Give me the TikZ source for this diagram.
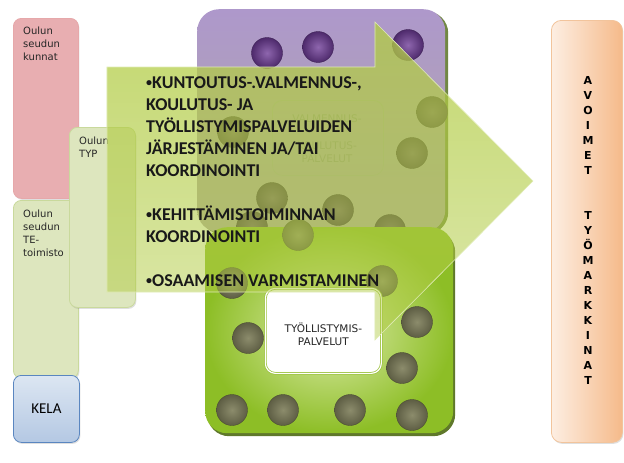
\documentclass[tikz,border=0pt]{standalone}
\usepackage{fontspec}
\setmainfont{DejaVu Sans}
\newfontfamily\calibrifont{Carlito}
\usepackage{tikz}
\usetikzlibrary{positioning, shadows, fadings}

\definecolor{kuntadark}{HTML}{E8AEB1}
\definecolor{kuntalight}{HTML}{FAEDEE}
\definecolor{kuntaline}{HTML}{E6A8AA}
\definecolor{tedark}{HTML}{DDE6BE}
\definecolor{telight}{HTML}{F7F9EE}
\definecolor{teline}{HTML}{C9D99C}
\definecolor{kelatop}{HTML}{DCE6F2}
\definecolor{kelabottom}{HTML}{B4C8E3}
\definecolor{kelaline}{HTML}{5A86C0}
\definecolor{valmtop}{HTML}{AE98CB}
\definecolor{valmbottom}{HTML}{B0A8A8}
\definecolor{tyolinner}{HTML}{DCEBAA}
\definecolor{tyolouter}{HTML}{8DBE26}
\definecolor{tyolshadow}{HTML}{4E6914}
\definecolor{tyolline}{HTML}{9CC23E}
\definecolor{dotlight}{HTML}{8C8C6C}
\definecolor{dotdark}{HTML}{5E5E44}
\definecolor{purplelight}{HTML}{8E66AE}
\definecolor{purpledark}{HTML}{4E2A6C}
\definecolor{duskylight}{HTML}{6E5A70}
\definecolor{duskydark}{HTML}{45354A}
\definecolor{arrowgreen}{HTML}{B2CC45}
\definecolor{avoinleft}{HTML}{FDEEE2}
\definecolor{avoinright}{HTML}{F5BA8A}
\definecolor{avoinline}{HTML}{F2C49C}

\tikzfading[name=arrowfade, top color=transparent!22, bottom color=transparent!55]

\newcommand{\smallbullet}{{\fontsize{12}{12}\selectfont\raisebox{1.5pt}{•}}}

\tikzset{
    sidebox/.style={rectangle, rounded corners=8pt, anchor=north west, inner sep=0pt, line width=0.8pt, drop shadow={shadow xshift=1pt, shadow yshift=-1.5pt, opacity=0.25}},
    boxtext/.style={align=left, font=\fontsize{10}{13}\selectfont, inner sep=0pt, anchor=north west, text=black!85},
    bigbox/.style={rectangle, rounded corners=22pt, anchor=north west, inner sep=0pt},
    ballgrey/.style={circle, minimum size=31pt, inner sep=0pt, shading=radial, inner color=dotlight, outer color=dotdark, draw=dotdark!80!black, line width=0.4pt},
    ballpurple/.style={ballgrey, inner color=purplelight, outer color=purpledark, draw=purpledark!80!black},
    balldusky/.style={ballgrey, inner color=duskylight, outer color=duskydark, draw=duskydark!80!black},
    arrowtext/.style={align=left, font=\calibrifont\bfseries\fontsize{18}{22}\selectfont, inner sep=0pt, text=black!90}
}

\begin{document}
\begin{tikzpicture}[x=1pt, y=-1pt]
    \useasboundingbox (0,0) rectangle (624,463);

    % left column
    \node (kunnat) [sidebox, minimum width=65, minimum height=180, draw=kuntaline, left color=kuntadark, middle color=kuntalight, right color=kuntadark] at (13,18) {};
    \node (kunnattxt) [boxtext, below right=9pt and 10pt of kunnat.north west] {Oulun\\seudun\\kunnat};
    \node (te) [sidebox, minimum width=65, minimum height=178, draw=teline, left color=tedark, middle color=telight, right color=tedark] at (13,200) {};
    \node (tetxt) [boxtext, below right=10pt and 10pt of te.north west] {Oulun\\seudun\\TE-\\toimisto};
    \node (kela) [sidebox, minimum width=66, minimum height=67, draw=kelaline, top color=kelatop, bottom color=kelabottom, font=\calibrifont\fontsize{15}{18}\selectfont] at (13,375) {KELA};
    \node (typ) [sidebox, minimum width=66, minimum height=180, draw=teline, left color=tedark, middle color=telight, right color=tedark] at (69,127) {};
    \node (typtxt) [boxtext, below right=10pt and 10pt of typ.north west] {Oulun\\TYP};

    % valmennus box
    \node (valm) [bigbox, minimum width=248, minimum height=223, top color=valmtop, bottom color=valmbottom, drop shadow={shadow xshift=3pt, shadow yshift=-2pt, fill=tyolshadow, opacity=0.8}] at (197,9) {};
    \node (valmin) [rectangle, rounded corners=10pt, anchor=north west, minimum width=111, minimum height=75, draw=black!35, line width=0.8pt] at (272,100) {};
    \node (valmintxt) [align=center, font=\fontsize{10.5}{13}\selectfont, text=black!45] at (327,139) {VALMENNUS-\\[14pt]KOULUTUS-\\PALVELUT};
    \foreach \cx/\cy [count=\i] in {267/53, 318/47, 408/45}
        \node (pdot\i) [ballpurple] at (\cx,\cy) {};
    \foreach \cx/\cy [count=\i] in {432/112, 412/153, 233/132, 272/198, 338/210, 252/227, 390/230}
        \node (ddot\i) [balldusky] at (\cx,\cy) {};

    % tyollistymis box
    \node (tyoll) [bigbox, minimum width=248, minimum height=206, shading=radial, inner color=tyolinner, outer color=tyolouter, drop shadow={shadow xshift=2pt, shadow yshift=-3pt, fill=tyolshadow, opacity=0.9}] at (205,227) {};
    \foreach \cx/\cy [count=\i] in {298/235, 232/283, 382/281, 248/338, 417/322, 402/368, 232/410, 283/410, 350/410, 412/415}
        \node (gdot\i) [ballgrey] at (\cx,\cy) {};
    \node (tyollin) [rectangle, rounded corners=10pt, anchor=north west, minimum width=116, minimum height=85, fill=white, draw=tyolline, double=white, double distance=1.2pt, line width=0.7pt] at (265,288) {};
    \node (tyollintxt) [align=center, font=\fontsize{10.5}{13}\selectfont, text=black!85, yshift=-3.5pt] at (tyollin.center) {TYÖLLISTYMIS-\\PALVELUT};

    % big arrow
    \fill [arrowgreen, path fading=arrowfade] (107,67) -- (375,67) -- (375,22) -- (533,181) -- (375,340) -- (375,292) -- (107,292) -- cycle;
    \draw [white!60!arrowgreen, line width=0.6pt] (107,67) -- (375,67) -- (375,22) -- (533,181) -- (375,340) -- (375,292) -- (107,292) -- cycle;
    \node (tehtavat) [arrowtext, anchor=north west] at (146,76) {\smallbullet KUNTOUTUS-.VALMENNUS-,\\KOULUTUS- JA\\TYÖLLISTYMISPALVELUIDEN\\JÄRJESTÄMINEN JA/TAI\\KOORDINOINTI\\[22pt]\smallbullet KEHITTÄMISTOIMINNAN\\KOORDINOINTI\\[22pt]\smallbullet OSAAMISEN VARMISTAMINEN};

    % open labour market
    \node (avoimet) [sidebox, rounded corners=10pt, minimum width=71, minimum height=422, draw=avoinline, left color=avoinleft, right color=avoinright] at (551,20) {};
    \node (avoimettxt) [align=center, font=\bfseries\fontsize{11}{15}\selectfont, inner sep=0pt, anchor=north] at (588,76) {A\\V\\O\\I\\M\\E\\T\\[30pt]T\\Y\\Ö\\M\\A\\R\\K\\K\\I\\N\\A\\T};
\end{tikzpicture}
\end{document}
